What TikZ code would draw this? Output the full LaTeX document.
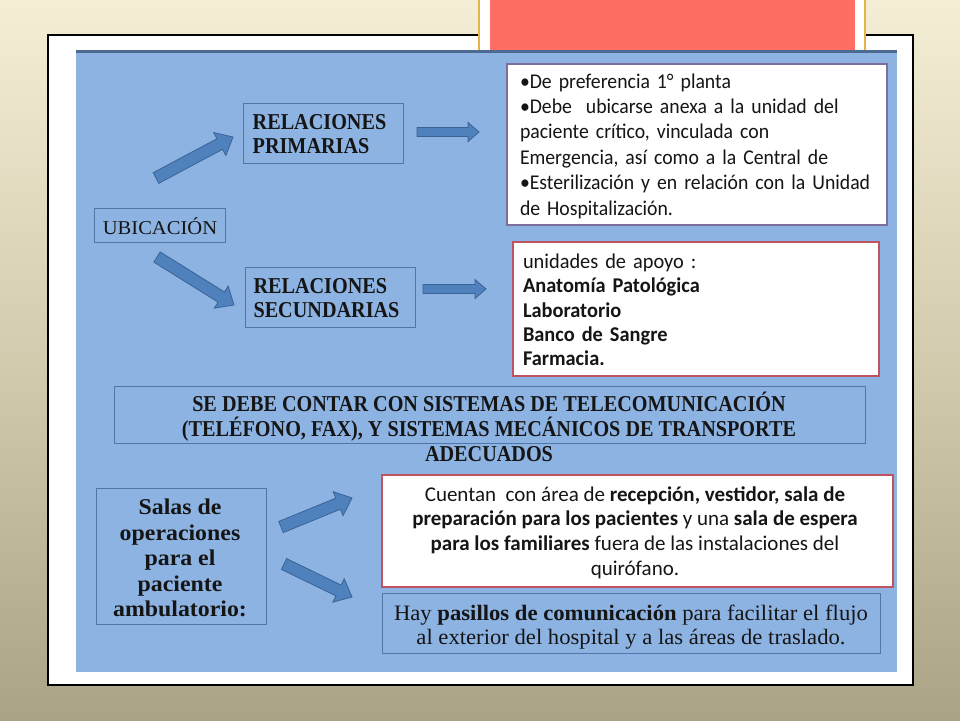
\documentclass[tikz,border=0pt]{standalone}
\usepackage{fontspec}
\setmainfont{Liberation Serif}
\newfontfamily\calA{Carlito}[FakeStretch=0.94]
\newfontfamily\calB{Carlito}[FakeStretch=0.97]
\newfontfamily\calC{Carlito}
\newfontfamily\serA{Liberation Serif}[FakeStretch=0.89]
\newfontfamily\serU{Liberation Serif}[FakeStretch=1.05]
\newfontfamily\serC{Liberation Serif}[FakeStretch=1.06]
\newfontfamily\serH{Liberation Serif}[FakeStretch=1.03]
\usetikzlibrary{calc}
\definecolor{bgtop}{HTML}{F4EED6}
\definecolor{bgmid}{HTML}{D2CBAE}
\definecolor{bgbot}{HTML}{ABA385}
\definecolor{panel}{HTML}{8DB3E2}
\definecolor{paneltop}{HTML}{4C6A92}
\definecolor{boxline}{HTML}{5276AA}
\definecolor{arrowfill}{HTML}{4F81BD}
\definecolor{arrowdraw}{HTML}{3A6396}
\definecolor{purpline}{HTML}{7D6E9C}
\definecolor{redline}{HTML}{BE5460}
\definecolor{tabred}{HTML}{FE6E62}
\definecolor{gold}{HTML}{E4B444}
\definecolor{ink}{HTML}{151515}
\tikzset{
  bluebox/.style={draw=boxline, line width=1pt, fill=none, inner sep=0pt},
  whitebox/.style={fill=white, line width=2pt, inner sep=0pt},
  txt/.style={text=ink, inner sep=0pt},
  barrow/.style={fill=arrowfill, draw=arrowdraw, line width=0.8pt, line join=miter},
}
\newcommand\blockarrow[5]{% tail, tip, shaft half width, head half width, head length
  \coordinate (hb) at ($(#2)!#5!(#1)$);
  \draw[barrow] ($(#1)!#3!90:(#2)$) -- ($(hb)!#3!-90:(#1)$) -- ($(hb)!#4!-90:(#1)$) -- (#2)
    -- ($(hb)!#4!90:(#1)$) -- ($(hb)!#3!90:(#1)$) -- ($(#1)!#3!-90:(#2)$) -- cycle;
}
\begin{document}
\begin{tikzpicture}[x=1pt,y=-1pt]
\useasboundingbox (0,0) rectangle (960,720);
% background
\shade[top color=bgtop, bottom color=bgbot, middle color=bgmid] (0,0) rectangle (960,720);
% white frame
\filldraw[fill=white, draw=black, line width=1.2pt] (48,35) rectangle (913,685);
% top tab
\fill[white] (479,0) rectangle (865,52);
\draw[gold, line width=1.5pt] (479,0) -- (479,52) (865,0) -- (865,52);
\fill[tabred] (490,0) rectangle (855,52);
% blue panel
\fill[panel] (76,50) rectangle (897,672);
\draw[paneltop, line width=3pt] (76,51.5) -- (897,51.5);

% left column nodes
\node[bluebox, minimum width=131pt, minimum height=34pt] (ubic) at (159.5,225.5) {};
\node[txt, font=\serU\fontsize{19.6}{22}\selectfont] (ubict) at (160,226) {UBICACIÓN};

\node[bluebox, minimum width=160pt, minimum height=60pt] (prim) at (323,133) {};
\node[txt, align=left, font=\serA\bfseries\fontsize{22.7}{24}\selectfont] (primt) at (319.5,134) {RELACIONES\\PRIMARIAS};

\node[bluebox, minimum width=170pt, minimum height=60pt] (sec) at (330,297) {};
\node[txt, align=left, font=\serA\bfseries\fontsize{22.7}{24}\selectfont] (sect) at (326.5,298) {RELACIONES\\SECUNDARIAS};

% right text boxes
\node[whitebox, draw=purpline, minimum width=380pt, minimum height=161pt] (primbox) at (697,144.5) {};
\node[txt, text width=354pt, align=left, font=\calA\fontsize{21}{25.4}\selectfont] (primtxt) at (697,146) {%
•De preferencia 1° planta\\
•Debe\ \ ubicarse anexa a la unidad del\\
paciente crítico, vinculada con\\
Emergencia, así como a la Central de\\
•Esterilización y en relación con la Unidad\\
de Hospitalización.};

\node[whitebox, draw=redline, minimum width=366pt, minimum height=134pt] (secbox) at (696,309) {};
\node[txt, text width=346pt, align=left, font=\calB\fontsize{21}{24.3}\selectfont] (sectxt) at (696,310) {%
unidades de apoyo :\\
\textbf{Anatomía Patológica}\\
\textbf{Laboratorio}\\
\textbf{Banco de Sangre}\\
\textbf{Farmacia.}};

% telecom
\node[bluebox, minimum width=751pt, minimum height=57pt] (tele) at (489.5,414.5) {};
\node[txt, align=center, font=\serA\bfseries\fontsize{22.7}{25}\selectfont] (telet) at (489,427) {%
SE DEBE CONTAR CON SISTEMAS DE TELECOMUNICACIÓN\\
(TELÉFONO, FAX), Y SISTEMAS MECÁNICOS DE TRANSPORTE\\
ADECUADOS};

% bottom
\node[bluebox, minimum width=170pt, minimum height=136pt] (salas) at (181,556) {};
\node[txt, align=center, font=\serC\bfseries\fontsize{22.5}{25.6}\selectfont] (salast) at (180,558) {%
Salas de\\operaciones\\para el\\paciente\\ambulatorio:};

\node[whitebox, draw=redline, minimum width=511pt, minimum height=112pt] (cuent) at (637.5,531) {};
\node[txt, align=center, font=\calC\fontsize{21}{24.6}\selectfont] (cuentt) at (635,532.5) {%
Cuentan\ \ con área de \textbf{recepción, vestidor, sala de}\\
\textbf{preparación para los pacientes} y una \textbf{sala de espera}\\
\textbf{para los familiares} fuera de las instalaciones del\\
quirófano.};

\node[bluebox, minimum width=498pt, minimum height=60pt] (hay) at (631,623) {};
\node[txt, align=center, font=\serH\fontsize{22}{24}\selectfont] (hayt) at (631,627.5) {%
Hay \textbf{pasillos de comunicación} para facilitar el flujo\\
al exterior del hospital y a las áreas de traslado.};

% arrows
\coordinate (a1s) at (156,178); \coordinate (a1e) at (233,137);
\coordinate (a2s) at (157,257); \coordinate (a2e) at (234,305);
\coordinate (a3s) at (417,132); \coordinate (a3e) at (479,132);
\coordinate (a4s) at (423,289); \coordinate (a4e) at (486,289);
\coordinate (a5s) at (281,527); \coordinate (a5e) at (352,498);
\coordinate (a6s) at (284,564); \coordinate (a6e) at (352,597);
\blockarrow{a1s}{a1e}{6pt}{13pt}{15pt}
\blockarrow{a2s}{a2e}{6pt}{13pt}{15pt}
\blockarrow{a3s}{a3e}{4.5pt}{9.5pt}{11pt}
\blockarrow{a4s}{a4e}{4.5pt}{9.5pt}{11pt}
\blockarrow{a5s}{a5e}{6pt}{13pt}{15pt}
\blockarrow{a6s}{a6e}{6pt}{13pt}{15pt}
\end{tikzpicture}
\end{document}
